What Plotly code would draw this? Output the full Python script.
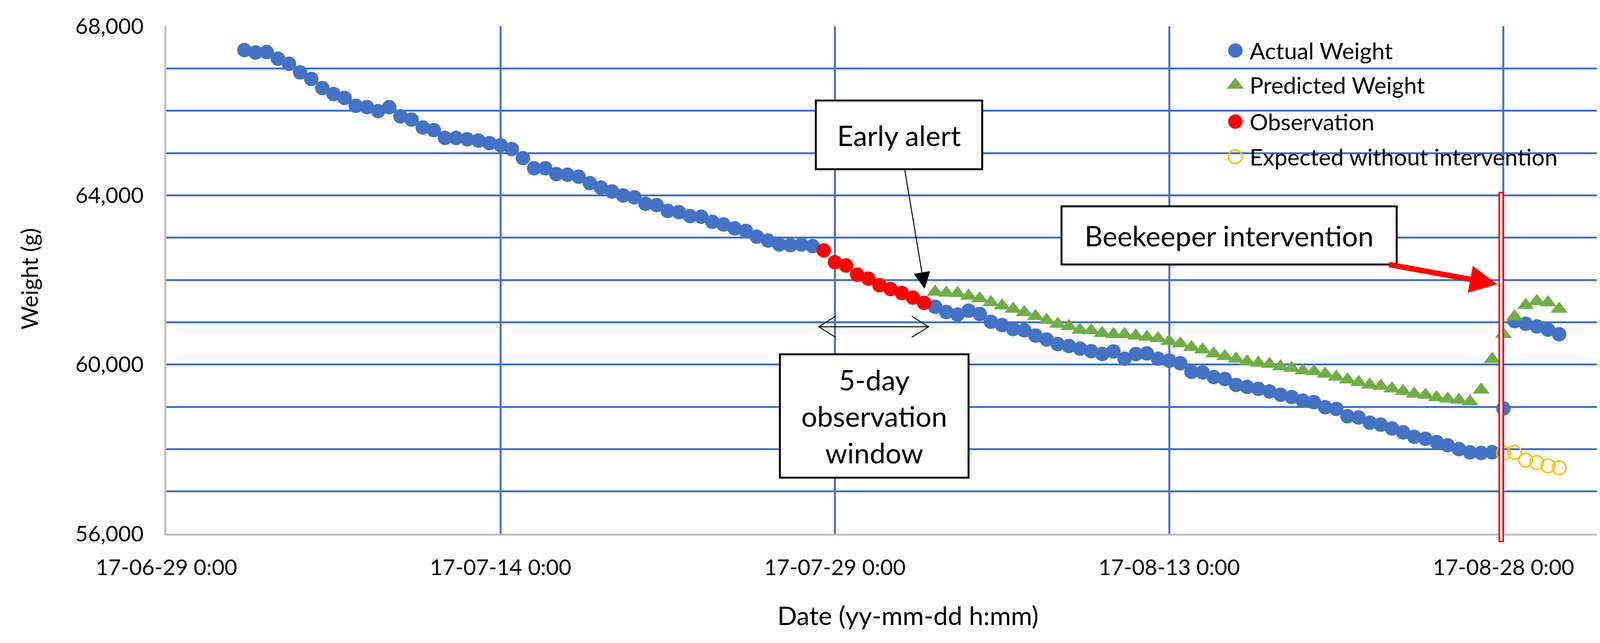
import plotly.graph_objects as go
import pandas as pd

# colours (Excel office palette)
BLUE = "#4472C4"
GREEN = "#70AD47"
RED = "#FF0000"
YELLOW = "#FFC000"
AXIS_GREY = "#BFBFBF"
FONT = "Lato"

# ---- data (12-hourly readings, grams) ----
actual_start_1 = "2017-07-02 12:00"
actual_weight_1 = [
    67434, 67378, 67388, 67232, 67109, 66907, 66752, 66535, 66395, 66302,
    66116, 66085, 65992, 66085, 65868, 65791, 65605, 65543, 65357, 65357,
    65326, 65295, 65233, 65186, 65093, 64880,
    64640, 64640, 64502, 64487, 64441, 64289, 64182, 64090, 63998, 63953,
    63800, 63769, 63632, 63602, 63510, 63495, 63373, 63311, 63220, 63159,
    63021, 62930, 62838, 62823, 62838, 62800,
]
actual_start_2 = "2017-08-02 12:00"
actual_weight_2 = [
    61365, 61241, 61180, 61272, 61195, 61009, 60932, 60839, 60808, 60684,
    60591, 60483, 60437, 60375, 60313, 60250, 60309, 60138, 60247, 60262,
    60138, 60092, 60030, 59828, 59813, 59704, 59657, 59518, 59471, 59425,
    59363, 59285, 59230, 59145, 59110, 58990, 58950, 58777, 58747, 58625,
    58579, 58488, 58396, 58290, 58244, 58168, 58091, 58000, 57924, 57908,
    57924, 58960, 61025, 60963, 60901, 60824, 60715,
]
predicted_start = "2017-08-02 12:00"
predicted_weight = [
    61715, 61693, 61684, 61622, 61560, 61467, 61390, 61313, 61235, 61142,
    61050, 60957, 60901, 60817, 60802, 60740, 60712, 60712, 60681, 60650,
    60619, 60551, 60495, 60411, 60349, 60256, 60194, 60132, 60070, 60039,
    60008, 59952, 59915, 59853, 59837, 59775, 59707, 59642, 59579, 59520,
    59490, 59430, 59369, 59305, 59280, 59220, 59189, 59159, 59122, 59402,
    60127, 60715, 61133, 61402, 61495, 61464, 61313,
]
observation_start = "2017-07-28 12:00"
observation_weight = [62697, 62418, 62341, 62124, 62031, 61876, 61783, 61690, 61582, 61458]
expected_start = "2017-08-28 00:00"
expected_weight = [57908, 57924, 57741, 57680, 57604, 57558]

legend_names = ["Actual Weight", "Predicted Weight", "Observation", "Expected without intervention"]


def half_days(start, values):
    return list(pd.date_range(start, periods=len(values), freq="12h"))


actual_dates = half_days(actual_start_1, actual_weight_1) + half_days(actual_start_2, actual_weight_2)
actual_weight = actual_weight_1 + actual_weight_2

fig = go.Figure()
fig.add_trace(go.Scatter(
    x=actual_dates, y=actual_weight, mode="markers", name=legend_names[0],
    marker=dict(symbol="circle", size=37, color=BLUE, line=dict(width=0)),
))
fig.add_trace(go.Scatter(
    x=half_days(predicted_start, predicted_weight), y=predicted_weight, mode="markers",
    name=legend_names[1],
    marker=dict(symbol="triangle-up", size=38, color=GREEN, line=dict(width=0)),
))
fig.add_trace(go.Scatter(
    x=half_days(observation_start, observation_weight), y=observation_weight, mode="markers",
    name=legend_names[2],
    marker=dict(symbol="circle", size=37, color=RED, line=dict(width=0)),
))
fig.add_trace(go.Scatter(
    x=half_days(expected_start, expected_weight), y=expected_weight, mode="markers",
    name=legend_names[3],
    marker=dict(symbol="circle-open", size=35, color=YELLOW, line=dict(width=4, color=YELLOW)),
))

# hand made legend (plotly caps legend symbols at 16px, the original uses full size markers)
legend_rows = [0.952, 0.884, 0.812, 0.743]
legend_keys = [("circle", BLUE, 37, 0), ("triangle-up", GREEN, 38, 0),
               ("circle", RED, 37, 0), ("circle-open", YELLOW, 35, 4)]
for (sym, col, sz, lw), row in zip(legend_keys, legend_rows):
    fig.add_trace(go.Scatter(
        x=[0.738], y=[row], xaxis="x2", yaxis="y2", mode="markers", showlegend=False,
        hoverinfo="skip",
        marker=dict(symbol=sym, size=sz, color=col, line=dict(width=lw, color=col)),
    ))

annotations = []
for name, row in zip(legend_names, legend_rows):
    annotations.append(dict(
        text=name, xref="paper", yref="paper", x=0.7473, y=row, xanchor="left",
        yanchor="middle", showarrow=False, font=dict(size=59, color="black", family=FONT),
    ))

box_font = dict(size=72, color="black", family=FONT)
annotations += [
    # Early alert
    dict(text="Early alert", xref="paper", yref="paper", x=0.5235, y=0.4823,
         ax=-66, ay=-395, axref="pixel", ayref="pixel", showarrow=True,
         arrowhead=2, arrowsize=3.4, arrowwidth=2.5, arrowcolor="black",
         bgcolor="white", bordercolor="black", borderwidth=5, borderpad=0,
         width=421, height=171, font=box_font, align="center", valign="middle"),
    # Beekeeper intervention
    dict(text="Beekeeper intervention", xref="paper", yref="paper", x=0.9188, y=0.4915,
         ax=-686, ay=-125, axref="pixel", ayref="pixel", showarrow=True,
         arrowhead=2, arrowsize=1.0, arrowwidth=14, arrowcolor=RED,
         bgcolor="white", bordercolor="black", borderwidth=5, borderpad=0,
         width=853, height=144, font=box_font, align="center", valign="middle"),
    # 5-day observation window
    dict(text="5-day<br>observation<br>window", xref="paper", yref="paper",
         x=0.4887, y=0.2323, xanchor="center", yanchor="middle", showarrow=False,
         bgcolor="white", bordercolor="black", borderwidth=5, borderpad=0,
         width=478, height=311, font=box_font, align="center", valign="middle"),
    # axis titles
    dict(text="Weight (g)", xref="paper", yref="paper", x=-0.0947, y=0.502,
         xanchor="center", yanchor="middle", textangle=-90, showarrow=False,
         font=dict(size=58, color="black", family=FONT)),
    dict(text="Date (yy-mm-dd h:mm)", xref="paper", yref="paper", x=0.512, y=-0.16,
         xanchor="center", yanchor="middle", showarrow=False,
         font=dict(size=66, color="black", family=FONT)),
]

# double headed arrow of the observation window
l, r, ym, dx, dy = 0.4504, 0.5262, 0.4077, 0.0116, 0.0208
window_path = (f"M {l+dx},{ym+dy} L {l},{ym} L {l+dx},{ym-dy} M {l},{ym} L {r},{ym} "
               f"M {r-dx},{ym+dy} L {r},{ym} L {r-dx},{ym-dy}")

shapes = [
    # white legend area hides the grid
    dict(type="rect", xref="paper", yref="paper", x0=0.6977, x1=0.9935, y0=0.708, y1=0.983,
         fillcolor="white", line=dict(width=0), layer="between"),
    # right border of the plot area
    dict(type="line", xref="paper", yref="paper", x0=1, x1=1, y0=0, y1=1,
         line=dict(color=BLUE, width=5), layer="between"),
    dict(type="path", xref="paper", yref="paper", path=window_path,
         line=dict(color="black", width=2.5)),
    # intervention marker (double red line)
    dict(type="rect", xref="paper", yref="paper", x0=0.9202, x1=0.9229, y0=-0.0154, y1=0.672,
         fillcolor="white", line=dict(color=RED, width=4), layer="above"),
]

# the page body has an 8px margin, so the figure is a little smaller than the window
fig.update_layout(
    width=4154, height=1631,
    margin=dict(l=418, r=28, t=59, b=272, autoexpand=False),
    paper_bgcolor="white", plot_bgcolor="white",
    showlegend=False,
    font=dict(family=FONT, color="black"),
    annotations=annotations,
    shapes=shapes,
    xaxis=dict(
        type="date", range=["2017-06-29", "2017-09-02"],
        tick0="2017-06-29", dtick=15 * 86400000, tickformat="%y-%m-%d %-H:%M",
        showgrid=True, gridcolor=BLUE, gridwidth=5, zeroline=False,
        showline=True, linecolor=AXIS_GREY, linewidth=5, ticks="",
        ticklabelstandoff=34, tickfont=dict(size=56, color="black", family=FONT),
    ),
    yaxis=dict(
        range=[56000, 68000], tick0=56000, dtick=4000, tickformat=",d",
        showgrid=True, gridcolor=BLUE, gridwidth=5, zeroline=False,
        minor=dict(dtick=1000, showgrid=True, gridcolor=BLUE, gridwidth=5),
        showline=True, linecolor=AXIS_GREY, linewidth=5, ticks="",
        ticklabelstandoff=42, tickfont=dict(size=56, color="black", family=FONT),
    ),
    xaxis2=dict(overlaying="x", range=[0, 1], visible=False, fixedrange=True),
    yaxis2=dict(overlaying="y", range=[0, 1], visible=False, fixedrange=True),
)

fig.write_html("out.html")
